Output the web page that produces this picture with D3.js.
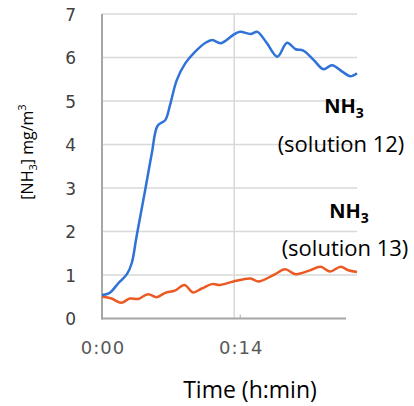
<!DOCTYPE html>
<html>
<head>
<meta charset="utf-8">
<script src="https://cdn.jsdelivr.net/npm/d3@7"></script>
<style>
  body { margin: 0; background: #fff; }
  svg text { font-family: "Open Sans", sans-serif; }
  svg text.tick { font-family: "DejaVu Sans", sans-serif; }
</style>
</head>
<body>
<script>
// time in minutes, concentration in mg/m3
var sol12Time = [0, 0.8, 1.7, 2.6, 3.1, 3.6, 4.5, 5.2, 5.8, 6.6, 7.1, 7.8, 8.7, 9.7, 10.8, 11.5, 12.4, 13.7,
                 14.4, 15.5, 16.2, 17.2, 18.3, 19.3, 20.2, 21.0, 22.1, 23.1, 24.0, 25.1, 25.9, 26.6];
var sol12Vals = [0.54, 0.59, 0.81, 1.02, 1.27, 1.88, 2.95, 3.8, 4.43, 4.56, 4.91, 5.48, 5.87, 6.13, 6.34, 6.40, 6.33, 6.52,
                 6.59, 6.54, 6.59, 6.33, 6.02, 6.34, 6.19, 6.16, 5.94, 5.73, 5.82, 5.67, 5.57, 5.64];

var sol13Time = [0, 1.0, 2.0, 2.9, 3.8, 4.8, 5.7, 6.6, 7.6, 8.6, 9.5, 10.4, 11.5, 12.3, 13.7,
                 15.5, 16.3, 17.9, 19.1, 20.2, 21.6, 22.8, 23.8, 24.9, 25.7, 26.6];
var sol13Vals = [0.50, 0.46, 0.36, 0.46, 0.45, 0.56, 0.49, 0.59, 0.64, 0.77, 0.60, 0.69, 0.79, 0.77, 0.85,
                 0.92, 0.85, 1.0, 1.13, 1.02, 1.10, 1.19, 1.08, 1.19, 1.11, 1.07];

var yTicks = [0, 1, 2, 3, 4, 5, 6, 7];
var xTicks = [0, 14];
var xTickLabels = ['0:00', '0:14'];

var W = 414, H = 406;
var svg = d3.select('body').append('svg').attr('width', W).attr('height', H);

var x = d3.scaleLinear().domain([0, 26.6]).range([102, 357]);
var y = d3.scaleLinear().domain([0, 7]).range([318.5, 14]);

// gridlines
svg.append('g').selectAll('line.h').data(yTicks.slice(1)).enter().append('line')
  .attr('x1', 102).attr('x2', 357)
  .attr('y1', d => y(d)).attr('y2', d => y(d))
  .attr('stroke', '#d9d9d9').attr('stroke-width', 1.5);
svg.append('g').selectAll('line.v').data(xTicks.slice(1)).enter().append('line')
  .attr('x1', d => x(d) - 2).attr('x2', d => x(d) - 2)
  .attr('y1', y(7)).attr('y2', y(0))
  .attr('stroke', '#d9d9d9').attr('stroke-width', 1.5);

// axes lines
svg.append('line').attr('x1', 102).attr('x2', 102).attr('y1', y(7)).attr('y2', y(0) + 1)
  .attr('stroke', '#a6a6a6').attr('stroke-width', 2);
svg.append('line').attr('x1', 101).attr('x2', 346).attr('y1', y(0)).attr('y2', y(0))
  .attr('stroke', '#a6a6a6').attr('stroke-width', 2);
svg.append('line').attr('x1', x(14) + 4).attr('x2', x(14) + 4).attr('y1', y(0)).attr('y2', y(0) - 4)
  .attr('stroke', '#a6a6a6').attr('stroke-width', 1);

// tick labels
svg.append('g').selectAll('text').data(yTicks).enter().append('text')
  .attr('class', 'tick')
  .attr('x', 76).attr('y', d => y(d) + 6.5)
  .attr('text-anchor', 'end').attr('font-size', 17).attr('fill', '#404040')
  .text(d => d);
svg.append('g').selectAll('text').data(xTicks).enter().append('text')
  .attr('class', 'tick')
  .attr('x', d => x(d) + (d ? 5 : 1)).attr('y', 354)
  .attr('text-anchor', 'middle').attr('font-size', 18).attr('letter-spacing', 1)
  .attr('fill', '#595959')
  .text((d, i) => xTickLabels[i]);

// axis titles
svg.append('text').attr('x', 250).attr('y', 398).attr('text-anchor', 'middle')
  .attr('font-size', 23).attr('fill', '#000').text('Time (h:min)');
var yt = svg.append('text').attr('transform', 'translate(33,152) rotate(-90)')
  .attr('text-anchor', 'middle').attr('font-size', 16).attr('fill', '#000');
yt.append('tspan').text('[NH');
yt.append('tspan').attr('font-size', 11).attr('dy', 4).text('3');
yt.append('tspan').attr('dy', -4).text('] mg/m');
yt.append('tspan').attr('font-size', 11).attr('dy', -7).text('3');

// lines
var line = d3.line().x(d => x(d[0])).y(d => y(d[1])).curve(d3.curveCatmullRom);
svg.append('path').datum(d3.zip(sol13Time, sol13Vals)).attr('d', line)
  .attr('fill', 'none').attr('stroke', '#ec5a24').attr('stroke-width', 2.5);
svg.append('path').datum(d3.zip(sol12Time, sol12Vals)).attr('d', line)
  .attr('fill', 'none').attr('stroke', '#2f72d8').attr('stroke-width', 2.5);

// annotations
function label(xc, yNH, xSol, ySol, sol) {
  var t = svg.append('text').attr('x', xc).attr('y', yNH).attr('text-anchor', 'middle')
    .attr('font-size', 20).attr('font-weight', 'bold').attr('fill', '#000');
  t.append('tspan').text('NH');
  t.append('tspan').attr('font-size', 14).attr('dy', 5).text('3');
  svg.append('text').attr('x', xSol).attr('y', ySol).attr('text-anchor', 'middle')
    .attr('font-size', 22).attr('fill', '#000').text('(solution ' + sol + ')');
}
label(344, 113, 341, 152, 12);
label(349, 218, 345, 256, 13);
</script>
</body>
</html>
